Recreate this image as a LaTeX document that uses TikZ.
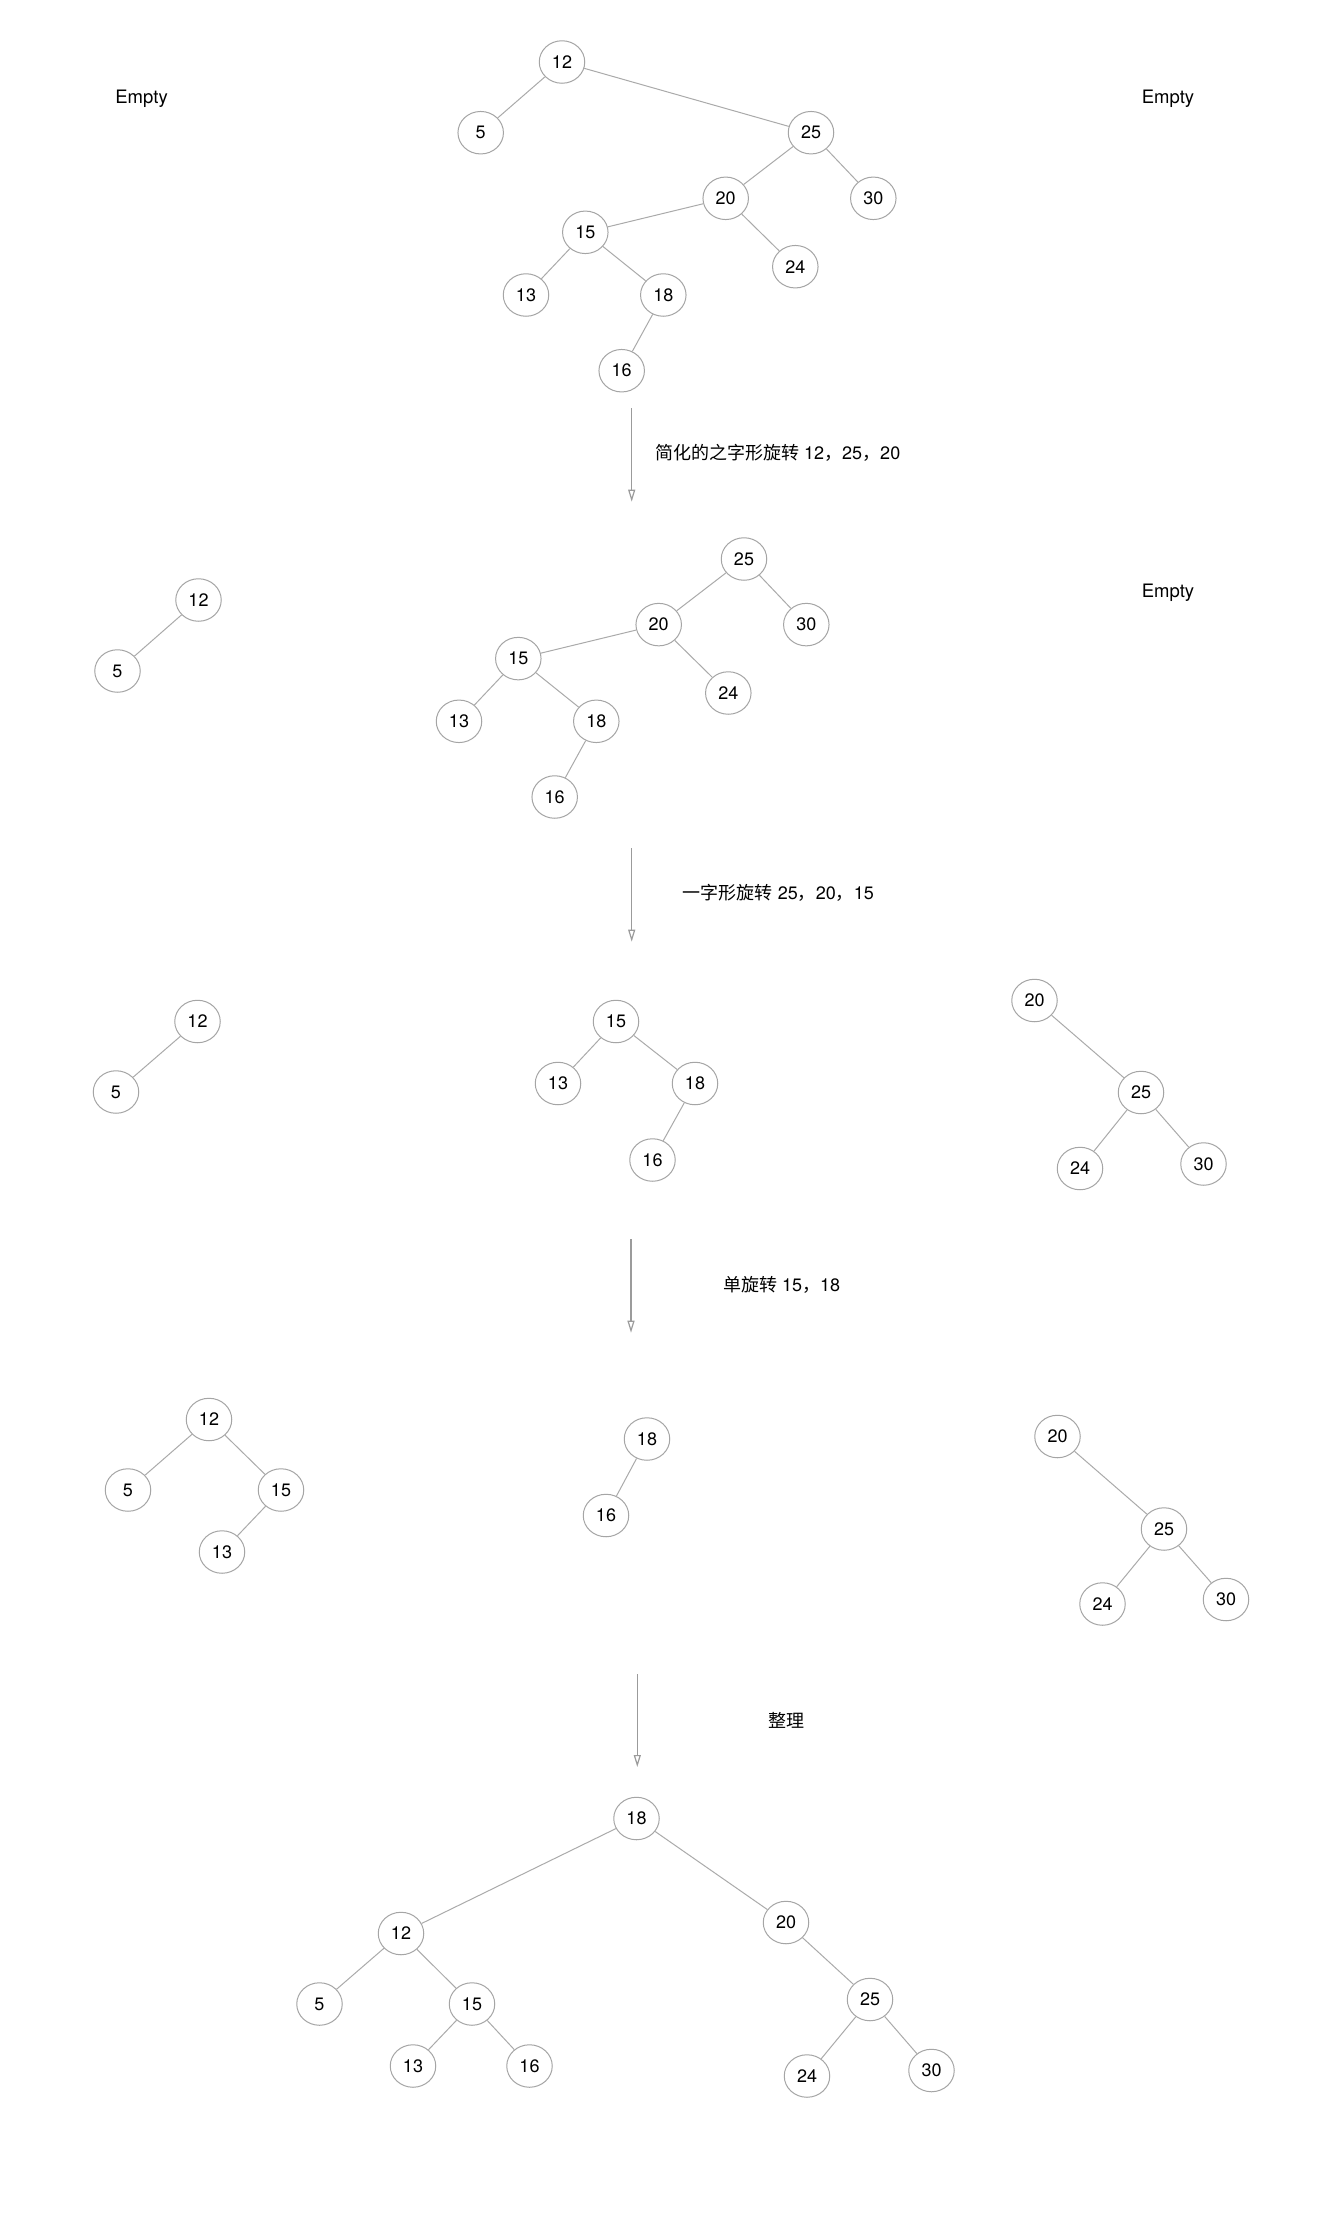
\documentclass[tikz,border=0pt]{standalone}
\usepackage{fontspec}
\setmainfont{TeX Gyre Heros}
\newfontfamily\cjk{Noto Sans CJK SC}
\usetikzlibrary{shapes.geometric,arrows.meta}
\definecolor{nodegray}{RGB}{165,165,165}
\definecolor{edgegray}{RGB}{170,170,170}
\definecolor{arrowgray}{RGB}{155,155,155}
\begin{document}
\begin{tikzpicture}[x=1pt,y=-1pt,
  bnode/.style={ellipse,draw=nodegray,line width=1pt,minimum width=45.5pt,minimum height=42.5pt,inner sep=0pt,font=\fontsize{18}{20}\selectfont},
  edge/.style={draw=edgegray,line width=1pt},
  flow/.style={draw=arrowgray,line width=1.2pt,-{Triangle[open,length=12pt,width=7pt]}},
  lbl/.style={anchor=west,inner sep=0pt,font=\fontsize{18}{20}\selectfont},
  emptylbl/.style={inner sep=0pt,font=\fontsize{18.5}{20}\selectfont}]
\useasboundingbox[fill=white] (0,0) rectangle (1341,2220);

% ---------- Stage 1 ----------
\node[emptylbl] (e1l) at (141.6,98.5) {Empty};
\node[emptylbl] (e1r) at (1168,98.5) {Empty};
\node[bnode] (a12) at (562,62) {12};
\node[bnode] (a5) at (480.7,132.7) {5};
\node[bnode] (a25) at (811,132.7) {25};
\node[bnode] (a20) at (725.7,198.3) {20};
\node[bnode] (a30) at (873.3,198.3) {30};
\node[bnode] (a15) at (585.3,232.3) {15};
\node[bnode] (a24) at (795.3,266.7) {24};
\node[bnode] (a13) at (526,295) {13};
\node[bnode] (a18) at (663.3,295) {18};
\node[bnode] (a16) at (621.7,370.7) {16};
\draw[edge] (a12) -- (a5);
\draw[edge] (a12) -- (a25);
\draw[edge] (a25) -- (a20);
\draw[edge] (a25) -- (a30);
\draw[edge] (a20) -- (a15);
\draw[edge] (a20) -- (a24);
\draw[edge] (a15) -- (a13);
\draw[edge] (a15) -- (a18);
\draw[edge] (a18) -- (a16);

% arrow 1
\coordinate (f1s) at (631.7,408);
\coordinate (f1e) at (631.7,501.7);
\draw[flow] (f1s) -- (f1e);
\node[lbl] (t1) at (655,453) {{\cjk 简化的之字形旋转} 12{\cjk ，}25{\cjk ，}20};

% ---------- Stage 2 ----------
\node[emptylbl] (e2r) at (1168,592.5) {Empty};
\node[bnode] (b12) at (198.5,600) {12};
\node[bnode] (b5) at (117.5,671) {5};
\draw[edge] (b12) -- (b5);
\node[bnode] (b25) at (744,559) {25};
\node[bnode] (b20) at (658.7,624.6) {20};
\node[bnode] (b30) at (806.3,624.6) {30};
\node[bnode] (b15) at (518.3,658.6) {15};
\node[bnode] (b24) at (728.3,693) {24};
\node[bnode] (b13) at (459,721.3) {13};
\node[bnode] (b18) at (596.3,721.3) {18};
\node[bnode] (b16) at (554.7,797) {16};
\draw[edge] (b25) -- (b20);
\draw[edge] (b25) -- (b30);
\draw[edge] (b20) -- (b15);
\draw[edge] (b20) -- (b24);
\draw[edge] (b15) -- (b13);
\draw[edge] (b15) -- (b18);
\draw[edge] (b18) -- (b16);

% arrow 2
\coordinate (f2s) at (631.7,848);
\coordinate (f2e) at (631.7,941.7);
\draw[flow] (f2s) -- (f2e);
\node[lbl] (t2) at (682.7,893) {{\cjk 一字形旋转} 25{\cjk ，}20{\cjk ，}15};

% ---------- Stage 3 ----------
\node[bnode] (c12) at (197.5,1021.5) {12};
\node[bnode] (c5) at (116,1092) {5};
\draw[edge] (c12) -- (c5);
\node[bnode] (c15) at (616,1021.5) {15};
\node[bnode] (c13) at (558,1083.5) {13};
\node[bnode] (c18) at (695,1083.5) {18};
\node[bnode] (c16) at (652.5,1160) {16};
\draw[edge] (c15) -- (c13);
\draw[edge] (c15) -- (c18);
\draw[edge] (c18) -- (c16);
\node[bnode] (c20) at (1034.5,1000.5) {20};
\node[bnode] (c25) at (1141,1092.5) {25};
\node[bnode] (c24) at (1080,1168.5) {24};
\node[bnode] (c30) at (1203.5,1164) {30};
\draw[edge] (c20) -- (c25);
\draw[edge] (c25) -- (c24);
\draw[edge] (c25) -- (c30);

% arrow 3
\coordinate (f3s) at (631,1239);
\coordinate (f3e) at (631,1332.7);
\draw[flow] (f3s) -- (f3e);
\node[lbl] (t3) at (723,1285) {{\cjk 单旋转} 15{\cjk ，}18};

% ---------- Stage 4 ----------
\node[bnode] (d12) at (209,1419.5) {12};
\node[bnode] (d5) at (128,1490) {5};
\node[bnode] (d15) at (281,1490) {15};
\node[bnode] (d13) at (222,1552) {13};
\draw[edge] (d12) -- (d5);
\draw[edge] (d12) -- (d15);
\draw[edge] (d15) -- (d13);
\node[bnode] (d18) at (647,1439) {18};
\node[bnode] (d16) at (606,1515.5) {16};
\draw[edge] (d18) -- (d16);
\node[bnode] (d20) at (1057.5,1436.5) {20};
\node[bnode] (d25) at (1164,1529) {25};
\node[bnode] (d24) at (1102.5,1604) {24};
\node[bnode] (d30) at (1226,1599.5) {30};
\draw[edge] (d20) -- (d25);
\draw[edge] (d25) -- (d24);
\draw[edge] (d25) -- (d30);

% arrow 4
\coordinate (f4s) at (637.3,1674);
\coordinate (f4e) at (637.3,1767);
\draw[flow] (f4s) -- (f4e);
\node[lbl] (t4) at (768,1720) {\cjk 整理};

% ---------- Stage 5 ----------
\node[bnode] (e18) at (636.5,1818.5) {18};
\node[bnode] (e12) at (401,1933.5) {12};
\node[bnode] (e20) at (786,1922.5) {20};
\node[bnode] (e5) at (319.5,2004) {5};
\node[bnode] (e15) at (472,2004) {15};
\node[bnode] (e25) at (870,1999.5) {25};
\node[bnode] (e13) at (413,2066) {13};
\node[bnode] (e16) at (529.5,2066) {16};
\node[bnode] (e24) at (807,2076) {24};
\node[bnode] (e30) at (931.5,2070.5) {30};
\draw[edge] (e18) -- (e12);
\draw[edge] (e18) -- (e20);
\draw[edge] (e12) -- (e5);
\draw[edge] (e12) -- (e15);
\draw[edge] (e15) -- (e13);
\draw[edge] (e15) -- (e16);
\draw[edge] (e20) -- (e25);
\draw[edge] (e25) -- (e24);
\draw[edge] (e25) -- (e30);
\end{tikzpicture}
\end{document}
